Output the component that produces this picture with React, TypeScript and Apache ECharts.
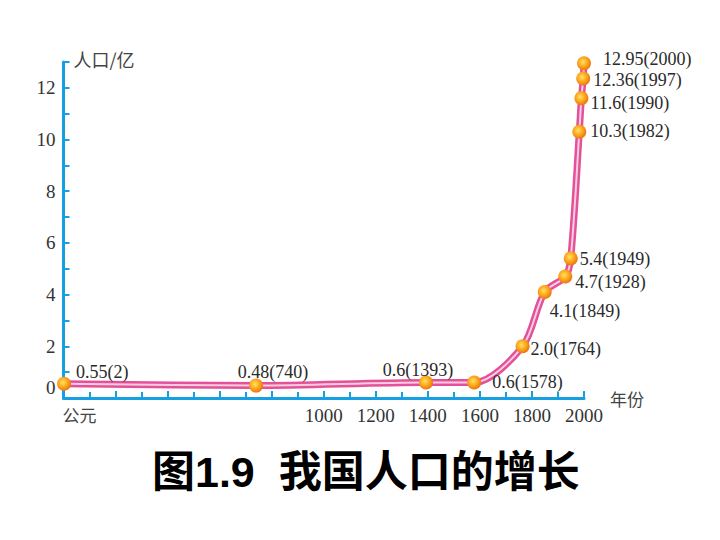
import React, { useEffect, useRef } from "react";
import * as echarts from "echarts";

const years = [2, 740, 1393, 1578, 1764, 1849, 1928, 1949, 1982, 1990, 1997, 2000];
const population = [0.55, 0.48, 0.6, 0.6, 2.0, 4.1, 4.7, 5.4, 10.3, 11.6, 12.36, 12.95];
const xLabelYears = [1000, 1200, 1400, 1600, 1800, 2000];
const yLabelValues = [0, 2, 4, 6, 8, 10, 12];

// label placement (style only)
const labelOffsets: number[][] = [
  [12, -12], [17, -14], [-8, -12], [18, 0], [8, 3], [5, 19],
  [10, 5], [9, 1], [11, -1], [9, 5], [10, 1], [19, -4],
];
const labelAligns = ["left", "center", "center", "left", "left", "left", "left", "left", "left", "left", "left", "left"];

const AXIS_COLOR = "#16a0e4";
const SERIF = '"Liberation Serif", "DejaVu Serif", serif';
const CJK = '"Noto Sans CJK SC", sans-serif';

function fmtValue(v: number) {
  return Number.isInteger(v) ? v.toFixed(1) : String(v);
}

export default function App() {
  const ref = useRef<HTMLDivElement>(null);
  useEffect(() => {
    if (!ref.current) return;
    const chart = echarts.init(ref.current, undefined, { renderer: "svg" });
    const pts = years.map((y, i) => [y, population[i]]);
    const ball = new echarts.graphic.RadialGradient(0.42, 0.4, 0.62, [
      { offset: 0, color: "#ffe45e" },
      { offset: 0.55, color: "#fca51e" },
      { offset: 1, color: "#e8740a" },
    ]);
    chart.setOption({
      animation: false,
      backgroundColor: "#ffffff",
      title: {
        text: "图1.9  我国人口的增长",
        left: 152,
        top: 450,
        padding: 0,
        textStyle: {
          fontSize: 43,
          fontWeight: "bold",
          color: "#000",
          fontFamily: '"Liberation Sans", Arial, "Noto Sans CJK SC", sans-serif',
        },
      },
      grid: { left: 63.5, right: 136, top: 62, bottom: 142, containLabel: false },
      xAxis: {
        type: "value",
        min: 0,
        max: 2000,
        interval: 200,
        name: "年份",
        nameLocation: "end",
        nameGap: 26,
        nameTextStyle: { fontFamily: CJK, fontSize: 17, color: "#444", padding: [38, 0, 0, 0] },
        axisLine: { show: true, lineStyle: { color: AXIS_COLOR, width: 3 } },
        axisTick: { show: true, inside: true, length: 7, lineStyle: { color: AXIS_COLOR, width: 2 } },
        minorTick: { show: true, splitNumber: 2, length: 6, lineStyle: { color: AXIS_COLOR, width: 2 } },
        splitLine: { show: false },
        axisLabel: {
          margin: 8,
          fontFamily: SERIF,
          fontSize: 19,
          color: "#333",
          showMaxLabel: true,
          formatter: (v: number) =>
            v === 0 ? "{g|公元}" : xLabelYears.includes(v) ? String(v) : "",
          rich: {
            g: { fontFamily: CJK, fontSize: 17, color: "#444", padding: [0, 0, 0, 32] },
          },
        },
      },
      yAxis: {
        type: "value",
        min: 0,
        max: 13,
        interval: 1,
        name: "人口/亿",
        nameLocation: "end",
        nameGap: 3,
        nameTextStyle: {
          fontFamily: CJK,
          fontSize: 18,
          color: "#444",
          align: "left",
          verticalAlign: "middle",
          padding: [0, 0, 0, 10],
        },
        axisLine: { show: true, lineStyle: { color: AXIS_COLOR, width: 3 } },
        axisTick: { show: true, inside: true, length: 6, lineStyle: { color: AXIS_COLOR, width: 2 } },
        splitLine: { show: false },
        axisLabel: {
          margin: 8,
          fontFamily: SERIF,
          fontSize: 19,
          color: "#333",
          formatter: (v: number) =>
            v === 0 ? "{z|0}" : yLabelValues.includes(v) ? String(v) : "",
          rich: { z: { fontFamily: SERIF, fontSize: 19, color: "#333", padding: [0, 0, 22, 0] } },
        },
      },
      series: [
        {
          type: "line",
          data: pts,
          smooth: 0.3,
          showSymbol: false,
          lineStyle: { color: "#e4509a", width: 7 },
          z: 2,
          silent: true,
        },
        {
          type: "line",
          data: years.map((y, i) => ({
            value: [y, population[i]],
            label: { offset: labelOffsets[i], align: labelAligns[i] },
          })),
          smooth: 0.3,
          symbol: "circle",
          symbolSize: 14,
          itemStyle: { color: ball },
          lineStyle: { color: "#f9cfe0", width: 2 },
          z: 3,
          label: {
            show: true,
            position: "inside",
            verticalAlign: "middle",
            fontFamily: SERIF,
            fontSize: 18,
            lineHeight: 17,
            color: "#2a2a2a",
            formatter: (p: any) => `${fmtValue(p.value[1])}(${p.value[0]})`,
          },
        },
      ],
    });
    return () => chart.dispose();
  }, []);
  return (
    <div
      ref={ref}
      style={{ position: "fixed", left: 0, top: 0, width: 720, height: 540, background: "#fff" }}
    />
  );
}
